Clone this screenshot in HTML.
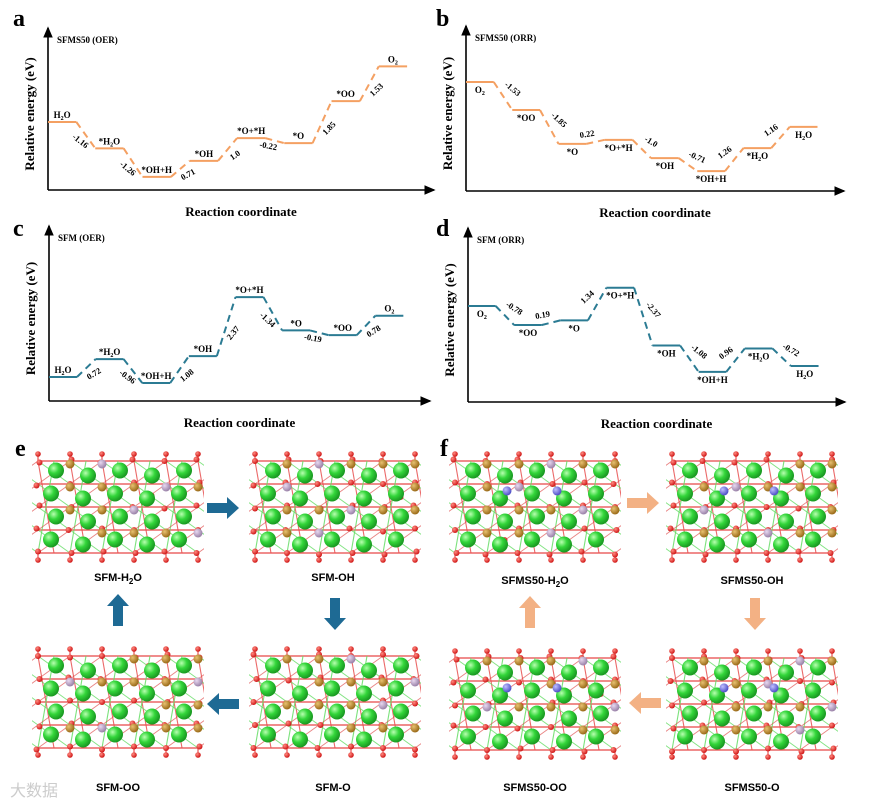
<!DOCTYPE html>
<html><head><meta charset="utf-8">
<style>
body{margin:0;background:#fff;}
svg{display:block;}
text{font-family:"Liberation Serif",serif;}
.sans{font-family:"Liberation Sans",sans-serif;}
</style></head>
<body>
<svg id="fig" width="869" height="803" viewBox="0 0 869 803" xmlns="http://www.w3.org/2000/svg">
<defs>
<marker id="arr" markerWidth="8" markerHeight="8" refX="6" refY="4" orient="auto"><path d="M0,1 L7,4 L0,7 Z" fill="#000"/></marker>
<radialGradient id="gG" cx="35%" cy="35%" r="65%"><stop offset="0" stop-color="#b8ffb0"/><stop offset="0.5" stop-color="#33d63a"/><stop offset="1" stop-color="#1a9a22"/></radialGradient>
<radialGradient id="gR" cx="35%" cy="35%" r="65%"><stop offset="0" stop-color="#ff8a80"/><stop offset="1" stop-color="#d01818"/></radialGradient>
<radialGradient id="gB" cx="35%" cy="35%" r="65%"><stop offset="0" stop-color="#e8c070"/><stop offset="1" stop-color="#9a6a18"/></radialGradient>
<radialGradient id="gP" cx="35%" cy="35%" r="65%"><stop offset="0" stop-color="#e8d8f0"/><stop offset="1" stop-color="#9a82a8"/></radialGradient>
<radialGradient id="gU" cx="35%" cy="35%" r="65%"><stop offset="0" stop-color="#c0c0ff"/><stop offset="1" stop-color="#5050c8"/></radialGradient>
</defs>
<g id="charts"></g>
<g id="structs"></g>
<g id="static">
<text x="13" y="26" font-size="24" font-weight="bold">a</text>
<text x="436" y="26" font-size="24" font-weight="bold">b</text>
<text x="13" y="236" font-size="24" font-weight="bold">c</text>
<text x="436" y="236" font-size="24" font-weight="bold">d</text>
<text x="15" y="456" font-size="24" font-weight="bold">e</text>
<text x="440" y="456" font-size="24" font-weight="bold">f</text>
<g class="sans" font-size="11" font-weight="bold" text-anchor="middle">
<text class="sans" x="118" y="581">SFM-H<tspan font-size="8" dy="3">2</tspan><tspan dy="-3">O</tspan></text>
<text class="sans" x="333" y="581">SFM-OH</text>
<text class="sans" x="118" y="791">SFM-OO</text>
<text class="sans" x="333" y="791">SFM-O</text>
<text class="sans" x="535" y="584">SFMS50-H<tspan font-size="8" dy="3">2</tspan><tspan dy="-3">O</tspan></text>
<text class="sans" x="752" y="584">SFMS50-OH</text>
<text class="sans" x="535" y="791">SFMS50-OO</text>
<text class="sans" x="752" y="791">SFMS50-O</text>
</g>
<text x="10" y="796" font-size="16" fill="#ccc" class="sans">大数据</text>
</g>
</svg>
<script>
const NS="http://www.w3.org/2000/svg";
// ---- chart data ----
const aSpecies=["H2O","*H2O","*OH+H","*OH","*O+*H","*O","*OO","O2"];
const aSteps=[-1.16,-1.26,0.71,1.0,-0.22,1.85,1.53];
const bSpecies=["O2","*OO","*O","*O+*H","*OH","*OH+H","*H2O","H2O"];
const bSteps=[-1.53,-1.85,0.22,-1.0,-0.71,1.26,1.16];
const cSpecies=["H2O","*H2O","*OH+H","*OH","*O+*H","*O","*OO","O2"];
const cSteps=[0.72,-0.96,1.08,2.37,-1.34,-0.19,0.78];
const dSpecies=["O2","*OO","*O","*O+*H","*OH","*OH+H","*H2O","H2O"];
const dSteps=[-0.78,0.19,1.34,-2.37,-1.08,0.96,-0.72];
const aStepLabels=["-1.16","-1.26","0.71","1.0","-0.22","1.85","1.53"];
const bStepLabels=["-1.53","-1.85","0.22","-1.0","-0.71","1.26","1.16"];
const cStepLabels=["0.72","-0.96","1.08","2.37","-1.34","-0.19","0.78"];
const dStepLabels=["-0.78","0.19","1.34","-2.37","-1.08","0.96","-0.72"];

function mk(tag,attrs,parent){const e=document.createElementNS(NS,tag);for(const k in attrs)e.setAttribute(k,attrs[k]);parent.appendChild(e);return e;}
function speciesText(t,s){
  const m=s.match(/^(.*?)(H|O)2(O?)$/);
  if(m){t.appendChild(document.createTextNode(m[1]+m[2]));const sub=document.createElementNS(NS,'tspan');sub.setAttribute('font-size','6');sub.setAttribute('dy','2');sub.textContent='2';t.appendChild(sub);if(m[3]){const r=document.createElementNS(NS,'tspan');r.setAttribute('dy','-2');r.textContent=m[3];t.appendChild(r);}}
  else t.textContent=s;
}
function drawChart(cfg){
  const g=mk('g',{},document.getElementById('charts'));
  
  
  const ax=mk('g',{},g);
  const yA=mk('line',{x1:cfg.x0,y1:cfg.y0,x2:cfg.x0,y2:cfg.yTop,stroke:'#000','stroke-width':1.6,'marker-end':'url(#arr)'},ax);
  
  const xA=mk('line',{x1:cfg.x0,y1:cfg.y0,x2:cfg.xEnd,y2:cfg.y0,stroke:'#000','stroke-width':1.6,'marker-end':'url(#arr)'},ax);
  
  const tt=mk('text',{x:cfg.x0+9,y:cfg.yTop+15,'font-size':9,'font-weight':'bold'},g);tt.textContent=cfg.title;
  
  const yl=mk('text',{x:0,y:0,'font-size':13,'font-weight':'bold','text-anchor':'middle',transform:`translate(${cfg.x0-14},${(cfg.y0+cfg.yTop)/2+5}) rotate(-90)`},g);yl.textContent='Relative energy (eV)';
  
  const xl=mk('text',{x:(cfg.x0+cfg.xEnd)/2,y:cfg.y0+26,'font-size':13,'font-weight':'bold','text-anchor':'middle'},g);xl.textContent='Reaction coordinate';
  
  const E=[0];cfg.steps.forEach((s,i)=>E.push(E[i]+s));
  const yS=e=>cfg.yRef-e*cfg.ppe;
  const slot=(cfg.xEnd-8-cfg.x0)/cfg.species.length;
  const xS=i=>cfg.x0+i*slot;
  const lw=slot*0.6;
  E.forEach((e,i)=>{
    const x1=xS(i),x2=x1+lw,y=yS(e);
    const l=mk('line',{x1:x1,y1:y,x2:x2,y2:y,stroke:cfg.color,'stroke-width':2},g);
    
    
    const t=mk('text',{x:x1+lw/2,y:cfg.below?y+11:y-4,'font-size':9,'font-weight':'bold','text-anchor':'middle'},g);
    speciesText(t,cfg.species[i]);
    
    
    if(i<E.length-1){
      const nx=xS(i+1),ny=yS(E[i+1]);
      const c=mk('line',{x1:x2,y1:y,x2:nx,y2:ny,stroke:cfg.color,'stroke-width':2,'stroke-dasharray':'7,5'},g);
      
      
      const mx=(x2+nx)/2,my=(y+ny)/2;
      const desc=ny>y;
      let dx,dy;
      if(cfg.high){dx=desc?8:-8;dy=-5;}else{dx=desc?-7:9;dy=8;}
      const ang=Math.atan2(ny-y,nx-x2)*180/Math.PI*0.7;
      const st=mk('text',{x:0,y:0,'font-size':8.5,'font-weight':'bold','text-anchor':'middle',transform:`translate(${mx+dx},${my+dy}) rotate(${ang})`},g);
      st.textContent=cfg.stepLabels[i];
      
      
    }
  });
}
drawChart({name:'chart-a-sfms50-oer',title:'SFMS50 (OER)',x0:48,y0:190,yTop:28,xEnd:434,species:aSpecies,steps:aSteps,stepLabels:aStepLabels,yRef:122,ppe:22.7,color:'#f4a062',below:false,high:false});
drawChart({name:'chart-b-sfms50-orr',title:'SFMS50 (ORR)',x0:466,y0:191,yTop:26,xEnd:844,species:bSpecies,steps:bSteps,stepLabels:bStepLabels,yRef:82,ppe:18.3,color:'#f4a062',below:true,high:true});
drawChart({name:'chart-c-sfm-oer',title:'SFM (OER)',x0:49,y0:401,yTop:226,xEnd:430,species:cSpecies,steps:cSteps,stepLabels:cStepLabels,yRef:377,ppe:24.9,color:'#2b7b93',below:false,high:false});
drawChart({name:'chart-d-sfm-orr',title:'SFM (ORR)',x0:468,y0:402,yTop:228,xEnd:845,species:dSpecies,steps:dSteps,stepLabels:dStepLabels,yRef:306,ppe:24.4,color:'#2b7b93',below:true,high:true});

// ---- structures ----
function drawStruct(name,x0,y0,blue,seed){
  const g=mk('g',{},document.getElementById('structs'));
  
  
  const bonds=mk('g',{},g),dang=mk('g',{},g),atoms=mk('g',{},g);
  const sx=16,sy=11.5,dl=7;
  const h=(i,j)=>((i*7+j*13+seed*5)%11);
  const O=[];
  for(let j=0;j<=8;j++)for(let i=0;i<=10;i++){
    const px=x0+i*sx+((h(i,j)%3)-1)*1.5,py=y0+j*sy+((h(j,i)%3)-1)*1.5;
    if((i+j)%2===0)O.push([px,py]);
  }
  for(let j=0;j<=8;j+=2)mk('line',{x1:x0,y1:y0+j*sy,x2:x0+10*sx,y2:y0+j*sy,stroke:'#e84848','stroke-width':1.2},bonds);
  for(let i=0;i<=10;i++){mk('line',{x1:x0+i*sx,y1:y0,x2:x0+(i%2?i-1:i+1)*sx,y2:y0+8*sy,stroke:(i%2?'#66dd66':'#e85050'),'stroke-width':1.1,opacity:0.85},bonds);}
  for(let k=-8;k<=10;k+=2){mk('line',{x1:x0+k*sx,y1:y0,x2:x0+(k+8)*sx,y2:y0+8*sy,stroke:'#66dd66','stroke-width':1,opacity:0.8},bonds);mk('line',{x1:x0+(k+8)*sx,y1:y0,x2:x0+k*sx,y2:y0+8*sy,stroke:'#e05050','stroke-width':0.9,opacity:0.7},bonds);}
  const cp='cp'+name;const d=mk('clipPath',{id:cp},g);mk('rect',{x:x0-6,y:y0-6,width:10*sx+12,height:8*sy+12},d);bonds.setAttribute('clip-path',`url(#${cp})`);
  for(let i=0;i<=10;i+=2){mk('line',{x1:x0+i*sx,y1:y0,x2:x0+i*sx,y2:y0-dl,stroke:'#e85050','stroke-width':1.2},dang);mk('circle',{cx:x0+i*sx,cy:y0-dl,r:2.8,fill:'url(#gR)'},atoms);mk('line',{x1:x0+i*sx,y1:y0+8*sy,x2:x0+i*sx,y2:y0+8*sy+dl,stroke:'#e85050','stroke-width':1.2},dang);mk('circle',{cx:x0+i*sx,cy:y0+8*sy+dl,r:2.8,fill:'url(#gR)'},atoms);}
  O.forEach(p=>mk('circle',{cx:p[0],cy:p[1],r:3,fill:'url(#gR)'},atoms));
  for(let j=0;j<4;j++)for(let i=0;i<5;i++){
    const px=x0+(2*i+1)*sx,py=y0+(2*j)*sy+3;
    const k=h(i,j);
    if(k%4===0)continue;
    mk('circle',{cx:px+sx,cy:py,r:4.5,fill:(k%5===1?'url(#gP)':'url(#gB)')},atoms);
  }
  for(let j=0;j<4;j++)for(let i=0;i<5;i++){
    const px=x0+(2*i+1)*sx+((j%2)?-3:2),py=y0+(2*j+1)*sy+((i%2)?3:-2);
    mk('circle',{cx:px,cy:py,r:8,fill:'url(#gG)'},atoms);
  }
  if(blue){[[x0+3*sx+4,y0+2.6*sy],[x0+6*sx+6,y0+2.6*sy]].forEach(p=>mk('circle',{cx:p[0],cy:p[1],r:4.5,fill:'url(#gU)'},atoms));}
}
drawStruct('structure-sfm-h2o',38,461,false,1);
drawStruct('structure-sfm-oh',255,461,false,2);
drawStruct('structure-sfm-oo',38,656,false,3);
drawStruct('structure-sfm-o',255,656,false,4);
drawStruct('structure-sfms50-h2o',455,461,true,5);
drawStruct('structure-sfms50-oh',672,461,true,6);
drawStruct('structure-sfms50-oo',455,658,true,7);
drawStruct('structure-sfms50-o',672,658,true,8);

function arrow(name,cx,cy,dir,color){
  const g=mk('g',{transform:`translate(${cx},${cy}) rotate(${dir})`},document.getElementById('structs'));
  
  
  mk('path',{d:'M-16,-5 L4,-5 L4,-11 L16,0 L4,11 L4,5 L-16,5 Z',fill:color},g);
}
arrow('arrow-e-right',223,508,0,'#1e6a94');
arrow('arrow-e-down',335,614,90,'#1e6a94');
arrow('arrow-e-left',223,704,180,'#1e6a94');
arrow('arrow-e-up',118,610,-90,'#1e6a94');
arrow('arrow-f-right',643,503,0,'#f3b184');
arrow('arrow-f-down',755,614,90,'#f3b184');
arrow('arrow-f-left',645,703,180,'#f3b184');
arrow('arrow-f-up',530,612,-90,'#f3b184');
</script>
</body></html>
